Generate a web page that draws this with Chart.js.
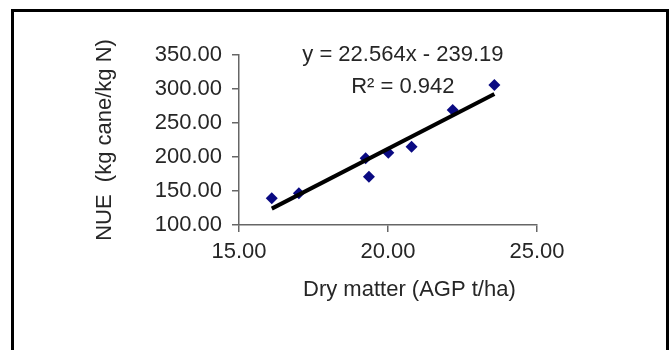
<!DOCTYPE html>
<html>
<head>
<meta charset="utf-8">
<script src="https://cdn.jsdelivr.net/npm/chart.js@4"></script>
<style>
  html, body { margin: 0; padding: 0; background: #fff; }
  #wrap { position: relative; width: 672px; height: 350px; overflow: hidden; }
  #frame { position: absolute; left: 11px; top: 9px; width: 652px; height: 400px; border: 3px solid #000; }
  #nueChart { position: absolute; left: 0; top: 0; }
</style>
</head>
<body>
<div id="wrap">
  <div id="frame"></div>
  <canvas id="nueChart" width="672" height="350"></canvas>
</div>
<script>
const dryMatter = [16.10, 17.01, 19.25, 19.36, 20.01, 20.79, 22.17, 23.57];
const nue = [139.3, 146.6, 198.1, 171.0, 206.3, 215.2, 269.1, 305.9];

// 추세선 양 끝점
const trendX = [16.10, 23.57];
const trendY = [124.1, 292.7];

const yTicks = [100, 150, 200, 250, 300, 350];
const xTicks = [15, 20, 25];

const eqLines = ['y = 22.564x - 239.19', 'R\u00B2 = 0.942'];

const FONT = "'Liberation Sans', Arial, sans-serif";
const TEXT = '#262626';

// 회귀식 텍스트 그리기
const equationLabel = {
    id: 'equationLabel',
    afterDatasetsDraw(chart) {
        const ctx = chart.ctx;
        const cx = chart.scales.x.getPixelForValue(20.5);
        const top = chart.chartArea.top;
        ctx.save();
        ctx.font = '22px ' + FONT;
        ctx.fillStyle = TEXT;
        ctx.textAlign = 'center';
        ctx.textBaseline = 'middle';
        ctx.fillText(eqLines[0], cx, top + 0);
        ctx.fillText(eqLines[1], cx, top + 32);
        ctx.restore();
    }
};

const ctx = document.getElementById('nueChart').getContext('2d');
new Chart(ctx, {
    type: 'scatter',
    data: {
        datasets: [{
            label: 'trend',
            type: 'line',
            data: trendX.map((x, i) => ({x: x, y: trendY[i]})),
            borderColor: '#000',
            borderWidth: 4,
            pointRadius: 0,
            fill: false,
            order: 0
        }, {
            label: 'NUE',
            data: dryMatter.map((x, i) => ({x: x, y: nue[i]})),
            pointStyle: 'rectRot',
            pointRadius: 6,
            backgroundColor: '#0a0a82',
            borderColor: '#0a0a82',
            borderWidth: 0,
            order: 1
        }]
    },
    options: {
        responsive: false,
        animation: false,
        layout: { padding: { top: 55, right: 135, left: 0, bottom: 0 } },
        plugins: { legend: { display: false }, tooltip: { enabled: false } },
        scales: {
            x: {
                type: 'linear',
                min: 15, max: 25,
                afterBuildTicks: s => { s.ticks = xTicks.map(v => ({value: v})); },
                afterFit: s => { s.height = 125; s.paddingLeft = 0; s.paddingRight = 0; },
                ticks: {
                    padding: 7,
                    color: TEXT,
                    font: { family: FONT, size: 22 },
                    callback: v => v.toFixed(2)
                },
                grid: { display: true, drawOnChartArea: false, drawTicks: true, tickLength: 7, color: '#666', lineWidth: 1.5 },
                border: { display: true, color: '#666', width: 1.5 },
                title: {
                    display: true,
                    text: '       Dry matter (AGP t/ha)',
                    color: TEXT,
                    font: { family: FONT, size: 22 },
                    padding: { top: 0, bottom: 47 }
                }
            },
            y: {
                min: 100, max: 350,
                afterBuildTicks: s => { s.ticks = yTicks.map(v => ({value: v})); },
                afterFit: s => { s.width = 239; s.paddingTop = 0; s.paddingBottom = 0; },
                ticks: {
                    padding: 10,
                    color: TEXT,
                    font: { family: FONT, size: 22 },
                    callback: v => v.toFixed(2)
                },
                grid: { display: true, drawOnChartArea: false, drawTicks: true, tickLength: 7, color: '#666', lineWidth: 1.5 },
                border: { display: true, color: '#666', width: 1.5 },
                title: {
                    display: true,
                    text: 'NUE  (kg cane/kg N)',
                    color: TEXT,
                    font: { family: FONT, size: 22 },
                    padding: { top: 92, bottom: 0 }
                }
            }
        }
    },
    plugins: [equationLabel]
});
</script>
</body>
</html>
